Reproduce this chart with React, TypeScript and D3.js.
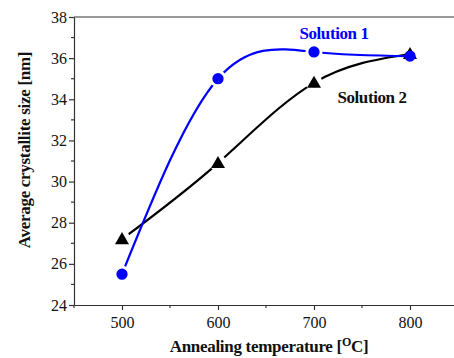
import React, { useEffect, useRef } from 'react'
import * as d3 from 'd3'

// annealing temperature (°C)
const temperatures = [500, 600, 700, 800]
// average crystallite size (nm)
const solution1 = [25.5, 35.0, 36.3, 36.1]
const solution2 = [27.2, 30.9, 34.8, 36.2]

const xTicks = [500, 600, 700, 800]
const yTicks = [24, 26, 28, 30, 32, 34, 36, 38]

const width = 454
const height = 358
const marginTop = 17
const marginBottom = 53
const marginLeft = 74
const font = 'Liberation Serif, serif'

const Chart = () => {
	const ref = useRef<SVGSVGElement>(null)

	useEffect(() => {
		if (!ref.current) return
		const svg = d3.select(ref.current)
		svg.selectAll('*').remove()

		const x = d3.scaleLinear().domain([450, 850]).range([marginLeft, marginLeft + 384])
		const y = d3
			.scaleLinear()
			.domain([24, 38])
			.range([height - marginBottom, marginTop])

		const axisColor = '#333'

		// top frame line
		svg
			.append('line')
			.attr('x1', marginLeft)
			.attr('x2', width)
			.attr('y1', marginTop)
			.attr('y2', marginTop)
			.attr('stroke', axisColor)
			.attr('stroke-width', 1.2)

		// minor ticks
		const xMinor = d3.range(450, 851, 50).filter(v => !xTicks.includes(v))
		const yMinor = d3.range(25, 38, 2)

		const xAxis = svg
			.append('g')
			.attr('transform', `translate(0,${height - marginBottom})`)
			.call(d3.axisBottom(x).tickValues(xTicks).tickSize(5).tickSizeOuter(0))
		xAxis.select('.domain').attr('stroke', axisColor).attr('stroke-width', 1.2)
		xAxis.selectAll('line').attr('stroke', axisColor).attr('stroke-width', 1.2)
		xAxis
			.selectAll('text')
			.attr('font-family', font)
			.attr('font-size', 16)
			.attr('fill', '#111')
			.attr('dy', '0.95em')
		xAxis
			.selectAll('line.minor')
			.data(xMinor)
			.join('line')
			.attr('class', 'minor')
			.attr('x1', d => x(d))
			.attr('x2', d => x(d))
			.attr('y2', 3)
			.attr('stroke', axisColor)
			.attr('stroke-width', 1.2)

		const yAxis = svg
			.append('g')
			.attr('transform', `translate(${marginLeft},0)`)
			.call(d3.axisLeft(y).tickValues(yTicks).tickSize(5).tickSizeOuter(0))
		yAxis.select('.domain').attr('stroke', axisColor).attr('stroke-width', 1.2)
		yAxis.selectAll('line').attr('stroke', axisColor).attr('stroke-width', 1.2)
		yAxis
			.selectAll('text')
			.attr('font-family', font)
			.attr('font-size', 16)
			.attr('fill', '#111')
			.attr('x', -7)
		yAxis
			.selectAll('line.minor')
			.data(yMinor)
			.join('line')
			.attr('class', 'minor')
			.attr('y1', d => y(d))
			.attr('y2', d => y(d))
			.attr('x2', -3)
			.attr('stroke', axisColor)
			.attr('stroke-width', 1.2)

		// axis titles
		const xTitle = svg
			.append('text')
			.attr('x', 269)
			.attr('y', 352)
			.attr('text-anchor', 'middle')
			.attr('font-family', font)
			.attr('font-weight', 'bold')
			.attr('font-size', 17)
			.attr('letter-spacing', -0.3)
			.attr('fill', '#111')
		xTitle.append('tspan').text('Annealing temperature [')
		xTitle.append('tspan').attr('dy', -6).attr('font-size', 12).text('O')
		xTitle.append('tspan').attr('dy', 6).text('C]')

		svg
			.append('text')
			.attr('transform', `translate(30,150) rotate(-90)`)
			.attr('text-anchor', 'middle')
			.attr('font-family', font)
			.attr('font-weight', 'bold')
			.attr('font-size', 17)
			.attr('letter-spacing', -0.3)
			.attr('fill', '#111')
			.text('Average crystallite size [nm]')

		const line = d3
			.line<number>()
			.x((_, i) => x(temperatures[i]))
			.y(d => y(d))
			.curve(d3.curveNatural)

		const series = [
			{ values: solution2, color: '#000', symbol: d3.symbolTriangle, size: 85 },
			{ values: solution1, color: '#0000ff', symbol: d3.symbolCircle, size: 100 }
		]

		series.forEach(s => {
			const g = svg.append('g')
			g.append('path')
				.datum(s.values)
				.attr('d', line)
				.attr('fill', 'none')
				.attr('stroke', s.color)
				.attr('stroke-width', 2.2)
			// white gap around markers (except where the series meet)
			g.selectAll('circle.halo')
				.data(s.values.slice(0, 3))
				.join('circle')
				.attr('class', 'halo')
				.attr('cx', (_, i) => x(temperatures[i]))
				.attr('cy', d => y(d))
				.attr('r', 8.5)
				.attr('fill', '#fff')
			g.selectAll('path.marker')
				.data(s.values)
				.join('path')
				.attr('class', 'marker')
				.attr('transform', (d, i) => `translate(${x(temperatures[i])},${y(d) + (s.symbol === d3.symbolTriangle ? 1 : 0)})`)
				.attr('d', d3.symbol().type(s.symbol).size(s.size))
				.attr('fill', s.color)
		})

		svg
			.append('text')
			.attr('x', 334)
			.attr('y', 39)
			.attr('text-anchor', 'middle')
			.attr('font-family', font)
			.attr('font-weight', 'bold')
			.attr('font-size', 17)
			.attr('letter-spacing', -0.4)
			.attr('fill', '#0000ff')
			.text('Solution 1')

		svg
			.append('text')
			.attr('x', 372)
			.attr('y', 103)
			.attr('text-anchor', 'middle')
			.attr('font-family', font)
			.attr('font-weight', 'bold')
			.attr('font-size', 17)
			.attr('letter-spacing', -0.4)
			.attr('fill', '#111')
			.text('Solution 2')
	}, [])

	return (
		<svg
			width={width}
			height={height}
			ref={ref}
			style={{ position: 'absolute', top: 0, left: 0, background: '#fff' }}
		></svg>
	)
}

export default function App() {
	return <Chart />
}
